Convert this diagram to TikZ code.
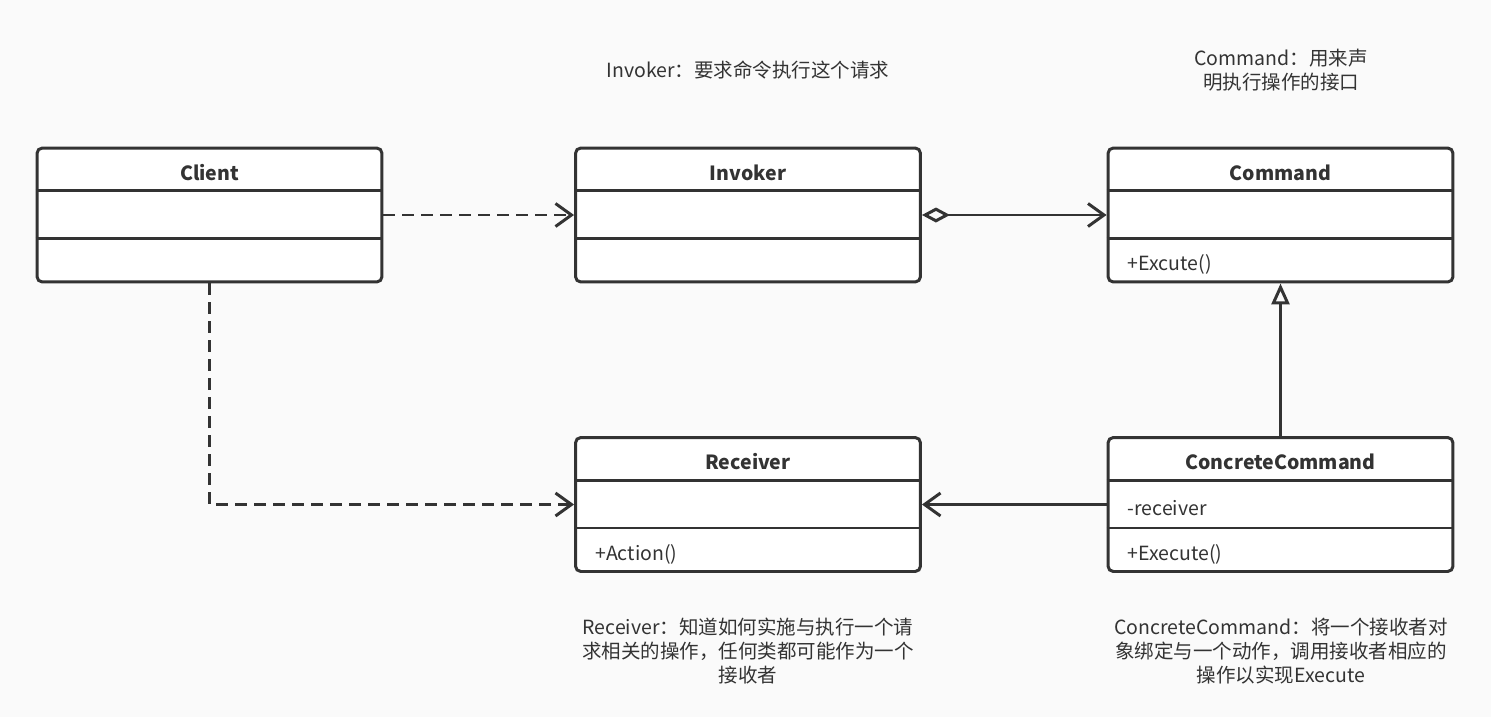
\documentclass[tikz,border=0pt]{standalone}
\usepackage{fontspec}
\setmainfont{Noto Sans CJK SC}
\usepackage{tikz}
\usetikzlibrary{positioning,arrows.meta}
\usepackage{xcolor}
\definecolor{ink}{HTML}{333333}
\definecolor{paper}{HTML}{FAFAFA}

\begin{document}
\begin{tikzpicture}[x=0.02cm, y=-0.02cm,
    classbox/.style={draw=ink, line width=1.7pt, rounded corners=3pt, fill=white,
        minimum width=6.9cm, minimum height=2.68cm, inner sep=0pt},
    sep/.style={draw=ink, line width=1.7pt},
    title/.style={text=ink, font=\fontsize{11.1}{13}\selectfont\bfseries},
    member/.style={text=ink, anchor=west, font=\fontsize{11.1}{13}\selectfont},
    note/.style={text=ink, align=center, font=\fontsize{11.1}{13.6}\selectfont},
    dep/.style={draw=ink, line width=1.7pt, dash pattern=on 0.24cm off 0.14cm,
        -{Straight Barb[length=0.32cm,width=0.46cm]}},
    assoc/.style={draw=ink, line width=1.7pt, -{Straight Barb[length=0.32cm,width=0.46cm]}}]

                % Canvas
                \fill[paper] (0,0) rectangle (1491,717);

                % Client
                \node[classbox] (client) at (209.5,215) {};
                \draw[sep] ([yshift=-0.88cm]client.north west) -- ([yshift=-0.88cm]client.north east);
                \draw[sep] ([yshift=0.9cm]client.south west) -- ([yshift=0.9cm]client.south east);
                \node[title] (clientname) at ([yshift=-0.52cm]client.north) {Client};

                % Invoker
                \node[classbox] (invoker) at (748,215) {};
                \draw[sep] ([yshift=-0.88cm]invoker.north west) -- ([yshift=-0.88cm]invoker.north east);
                \draw[sep] ([yshift=0.9cm]invoker.south west) -- ([yshift=0.9cm]invoker.south east);
                \node[title] (invokername) at ([yshift=-0.52cm]invoker.north) {Invoker};

                % Command
                \node[classbox] (command) at (1280.5,215) {};
                \draw[sep] ([yshift=-0.88cm]command.north west) -- ([yshift=-0.88cm]command.north east);
                \draw[sep] ([yshift=0.9cm]command.south west) -- ([yshift=0.9cm]command.south east);
                \node[title] (commandname) at ([yshift=-0.52cm]command.north) {Command};
                \node[member] (commandop) at ([xshift=0.3cm,yshift=-2.36cm]command.north west) {+Excute()};

                % Receiver
                \node[classbox] (receiver) at (748,504.5) {};
                \draw[sep] ([yshift=-0.88cm]receiver.north west) -- ([yshift=-0.88cm]receiver.north east);
                \draw[sep] ([yshift=0.9cm]receiver.south west) -- ([yshift=0.9cm]receiver.south east);
                \node[title] (receivername) at ([yshift=-0.52cm]receiver.north) {Receiver};
                \node[member] (receiverop) at ([xshift=0.3cm,yshift=-2.36cm]receiver.north west) {+Action()};

                % ConcreteCommand
                \node[classbox] (concrete) at (1280.5,504.5) {};
                \draw[sep] ([yshift=-0.88cm]concrete.north west) -- ([yshift=-0.88cm]concrete.north east);
                \draw[sep] ([yshift=0.9cm]concrete.south west) -- ([yshift=0.9cm]concrete.south east);
                \node[title] (concretename) at ([yshift=-0.52cm]concrete.north) {ConcreteCommand};
                \node[member] (concreteattr) at ([xshift=0.3cm,yshift=-1.44cm]concrete.north west) {-receiver};
                \node[member] (concreteop) at ([xshift=0.3cm,yshift=-2.36cm]concrete.north west) {+Execute()};

                % Relations
                \draw[dep] (client.east) -- (invoker.west);
                \draw[dep] (client.south) |- (receiver.west);
                \draw[assoc, {Diamond[open,length=0.56cm,width=0.3cm]}-{Straight Barb[length=0.32cm,width=0.46cm]}] (invoker.east) -- (command.west);
                \draw[draw=ink, line width=1.7pt, -{Triangle[open,length=0.42cm,width=0.36cm]}] (concrete.north) -- (command.south);
                \draw[assoc] (concrete.west) -- (receiver.east);

                % Notes
                \node[note] (invokernote) at (748,70) {Invoker：要求命令执行这个请求};
                \node[note] (commandnote) at (1281,70) {Command：用来声\\明执行操作的接口};
                \node[note] (receivernote) at (748,651) {Receiver：知道如何实施与执行一个请\\求相关的操作，任何类都可能作为一个\\接收者};
                \node[note] (concretenote) at (1281,651) {ConcreteCommand：将一个接收者对\\象绑定与一个动作，调用接收者相应的\\操作以实现Execute};
            \end{tikzpicture}
\end{document}
